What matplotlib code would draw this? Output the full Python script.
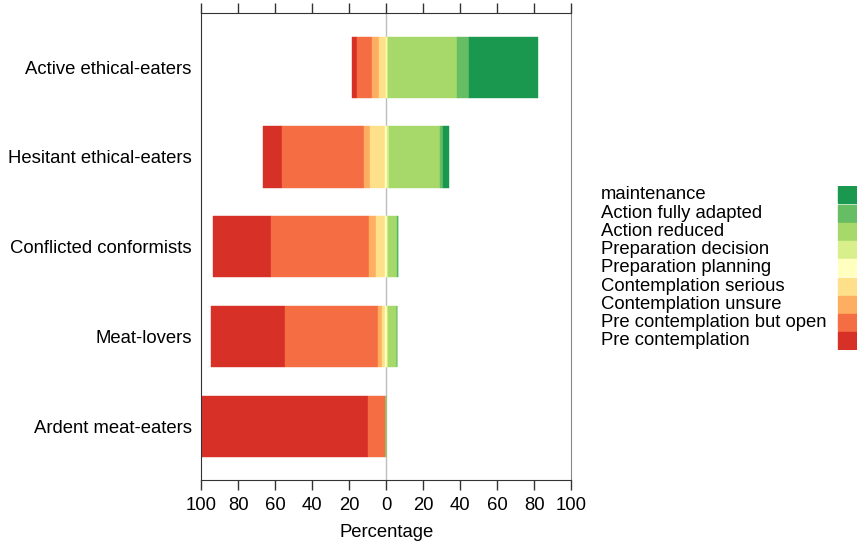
#External imports
import numpy as np
import matplotlib
matplotlib.use('Agg')
import matplotlib.pyplot as plt
from matplotlib.patches import Rectangle

plt.rcParams['font.family'] = ['Liberation Sans', 'DejaVu Sans']

#Data
GROUPS = ['Ardent meat-eaters', 'Meat-lovers', 'Conflicted conformists',
          'Hesitant ethical-eaters', 'Active ethical-eaters']
STAGES = ['Pre contemplation', 'Pre contemplation but open', 'Contemplation unsure',
          'Contemplation serious', 'Preparation planning', 'Preparation decision',
          'Action reduced', 'Action fully adapted', 'maintenance']
# percentages per group, in STAGES order
ARDENT = [89.9, 10.1, 0.0, 0.0, 0.0, 0.0, 0.0, 0.0, 0.0]
MEAT_LOVERS = [39.7, 50.4, 2.3, 1.7, 1.0, 0.4, 4.9, 0.0, 0.0]
CONFLICTED = [31.6, 52.7, 3.9, 5.1, 1.0, 0.4, 4.9, 0.3, 0.4]
HESITANT = [10.1, 44.3, 3.3, 8.3, 1.0, 1.1, 27.4, 1.5, 3.6]
ACTIVE = [2.4, 8.4, 3.5, 3.8, 0.6, 0.5, 37.3, 6.4, 37.7]
TICKS = [-100, -80, -60, -40, -20, 0, 20, 40, 60, 80, 100]

COLORS = ['#d73027', '#f46d43', '#fdae61', '#fee08b', '#ffffbf',
          '#d9ef8b', '#a6d96a', '#66bd63', '#1a9850']
FS = 13.3

W, H = 857, 553
fig = plt.figure(figsize=(W / 100, H / 100), dpi=100)
ax = fig.add_axes([201.3 / W, 1 - 480.3 / H, 370 / W, 467 / H])

values = np.array([ARDENT, MEAT_LOVERS, CONFLICTED, HESITANT, ACTIVE])
ypos = np.arange(1, len(GROUPS) + 1)
# diverging: neutral stage split half on each side of zero
left = -(values[:, :4].sum(axis=1) + values[:, 4] / 2)
ax.axvline(0, color='#bdbdbd', lw=1, zorder=0)
for i, name in enumerate(STAGES):
    ax.barh(ypos, values[:, i], left=left, height=0.68, color=COLORS[i],
            edgecolor=COLORS[i], linewidth=0.3, zorder=2)
    left = left + values[:, i]

ax.set_xlim(-100, 100)
ax.set_ylim(0.4, 5.6)
ax.set_yticks(ypos)
ax.set_yticklabels(GROUPS, fontsize=FS)
ax.tick_params(axis='y', length=0, pad=7)
ax.set_xticks(TICKS)
ax.set_xticklabels([str(abs(t)) for t in TICKS], fontsize=FS)
ax.tick_params(axis='x', length=7, width=1, color='#333333', top=True, pad=5)
ax.set_xlabel('Percentage', fontsize=FS, labelpad=7)
for s in ax.spines.values():
    s.set_color('#333333')
ax.spines['right'].set_color('#888888')

# legend: labels left, swatches at right edge
lax = fig.add_axes([595 / W, 1 - 350 / H, (W - 595) / W, 164.3 / H])
lax.set_xlim(595, W)
lax.set_ylim(len(STAGES), 0)
lax.axis('off')
for k, name in enumerate(STAGES[::-1]):
    col = COLORS[::-1][k]
    lax.add_patch(Rectangle((838, k + 0.03), 25, 0.94, color=col))
    lax.text(601, k + 0.5, name, fontsize=FS, va='center', ha='left')

fig.savefig('out.png', dpi=100)
